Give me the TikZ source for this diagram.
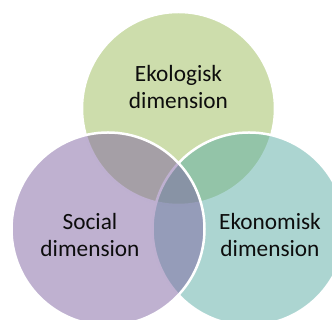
\documentclass[tikz,border=0pt]{standalone}
\usepackage{fontspec}
\setmainfont{Carlito}
\definecolor{ecogreen}{HTML}{9BBB59}
\definecolor{socpurple}{HTML}{7F63A2}
\definecolor{ecoteal}{HTML}{5AACA4}
\definecolor{txt}{HTML}{0D0D0D}
\begin{document}
\begin{tikzpicture}[x=1pt,y=1pt,
  venn/.style={circle, minimum size=193pt, inner sep=0pt, outer sep=0pt, draw=white, line width=2.5pt, fill opacity=0.5, draw opacity=1},
  lbl/.style={align=center, text=txt, font=\fontsize{23.3}{26.5}\selectfont, inner sep=0pt}]
\clip (0,0) rectangle (332,320);
\node[venn, fill=ecogreen] (eko) at (178.5,211.5) {};
\node[venn, fill=ecoteal] (ekon) at (249,91) {};
\node[venn, fill=socpurple] (soc) at (108,91) {};
\node[lbl] (tEko) at (178.5,233) {Ekologisk\\dimension};
\node[lbl] (tSoc) at (90,85) {Social\\dimension};
\node[lbl] (tEkon) at (270,85) {Ekonomisk\\dimension};
\end{tikzpicture}
\end{document}
